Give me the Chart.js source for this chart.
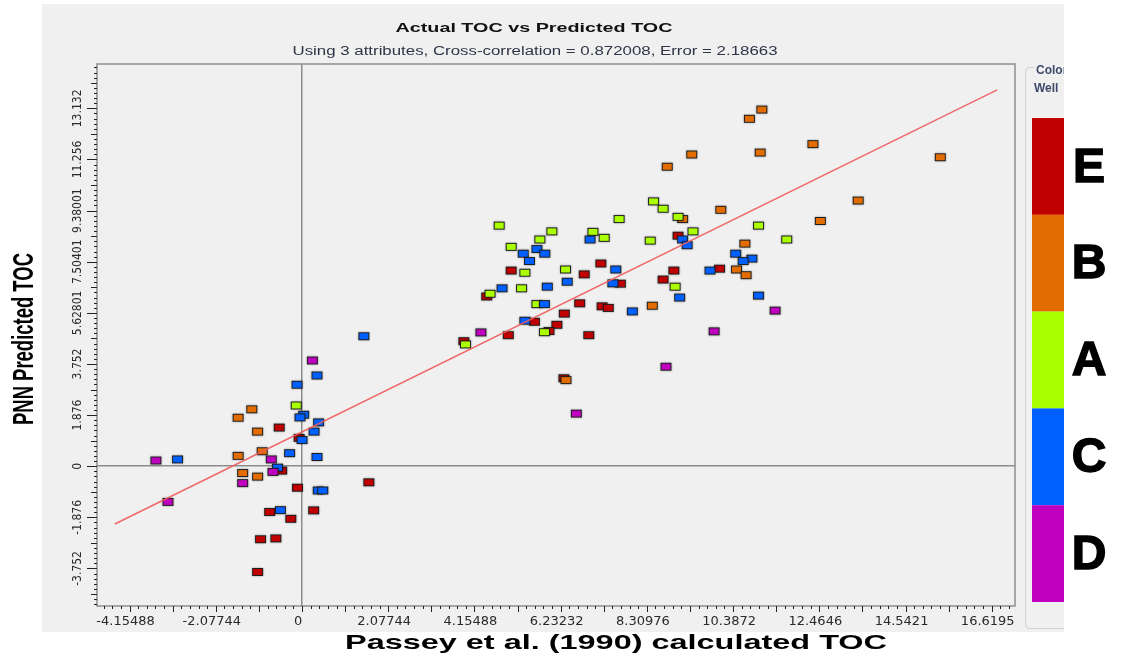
<!DOCTYPE html>
<html>
<head>
<meta charset="utf-8">
<title>Actual TOC vs Predicted TOC</title>
<script src="https://cdn.jsdelivr.net/npm/chart.js@4.4.1/dist/chart.umd.min.js"></script>
<style>
  html, body { margin: 0; padding: 0; background: #ffffff; }
  #wrap { width: 1121px; height: 657px; }
</style>
</head>
<body>
<div id="wrap"><canvas id="toc" width="1121" height="657"></canvas></div>
<script>
// ---- axis ticks ----
const xTickLabels = ["-4.15488", "-2.07744", "0", "2.07744", "4.15488", "6.23232",
  "8.30976", "10.3872", "12.4646", "14.5421", "16.6195"];
const yTickLabels = ["-3.752", "-1.876", "0", "1.876", "3.752", "5.62801",
  "7.50401", "9.38001", "11.256", "13.132"];

// ---- wells (legend order) ----
const wellNames = ["E", "B", "A", "C", "D"];
const wellColors = ["#c00000", "#e36c00", "#aaff00", "#0060ff", "#bf00bf"];

// Passey et al. (1990) calculated TOC (x) / PNN predicted TOC (y), per well
const wellE_x = [-0.55, -0.07, -0.49, -0.11, 1.61, -0.78, 0.28, -0.27, -1.00, -0.63, -1.07,
  9.06, 5.04, 6.80, 7.20, 8.96, 10.06, 7.67, 8.70, 4.45, 6.69, 7.23, 7.38, 6.32, 5.60,
  6.14, 5.95, 4.97, 6.91, 3.90, 6.31];
const wellE_y = [1.42, 1.04, -0.16, -0.79, -0.59, -1.68, -1.62, -1.93, -2.68, -2.65, -3.88,
  8.46, 7.18, 7.04, 7.44, 7.18, 7.25, 6.70, 6.85, 6.23, 5.98, 5.87, 5.81, 5.60, 5.30,
  5.19, 4.96, 4.81, 4.81, 4.59, 3.23];

const wellB_x = [-1.21, -1.54, -1.07, -0.96, -1.54, -1.43, -1.07, 10.09, 9.17, 10.67, 10.47,
  10.70, 8.44, 6.36, 11.08, 10.78, 12.31, 9.39, 11.04, 15.38, 8.80, 13.40, 12.49];
const wellB_y = [2.09, 1.78, 1.27, 0.55, 0.38, -0.25, -0.38, 9.41, 9.07, 8.17, 7.22,
  7.01, 5.89, 3.16, 13.09, 12.75, 11.82, 11.44, 11.51, 11.34, 10.99, 9.75, 9.00];

const wellA_x = [-0.14, 8.47, 8.70, 9.06, 7.64, 4.75, 11.00, 6.02, 7.01, 9.42, 5.73, 7.28,
  8.39, 11.68, 5.04, 5.37, 6.35, 8.99, 5.29, 4.53, 5.66, 5.84, 3.94];
const wellA_y = [2.23, 9.72, 9.45, 9.15, 9.07, 8.83, 8.83, 8.62, 8.60, 8.62, 8.32, 8.38,
  8.28, 8.32, 8.05, 7.10, 7.22, 6.59, 6.53, 6.33, 5.95, 4.92, 4.47];

const wellC_x = [1.49, 0.36, -0.12, 0.04, -0.05, 0.40, 0.29, 0.00, -0.30, 0.36, -3.00, -0.59,
  0.39, 0.50, -0.52, 6.94, 9.17, 9.28, 5.33, 5.66, 5.85, 5.48, 10.45, 10.84, 10.63, 7.56,
  9.83, 6.39, 7.49, 4.82, 5.91, 9.10, 11.00, 5.84, 7.96, 5.37];
const wellC_y = [4.77, 3.33, 2.99, 1.89, 1.79, 1.61, 1.27, 0.96, 0.48, 0.34, 0.25, -0.05,
  -0.89, -0.89, -1.61, 8.32, 8.32, 8.11, 7.80, 7.97, 7.80, 7.53, 7.80, 7.62, 7.53, 7.22,
  7.18, 6.77, 6.71, 6.53, 6.59, 6.19, 6.26, 5.95, 5.68, 5.34];

const wellD_x = [0.25, -0.74, -3.52, -0.70, -1.43, -3.23, 11.40, 4.31, 9.93, 8.77, 6.61];
const wellD_y = [3.88, 0.25, 0.21, -0.21, -0.62, -1.31, 5.71, 4.91, 4.95, 3.65, 1.93];

// fitted trend line end points
const fitX = [-4.51, 16.75];
const fitY = [-2.12, 13.81];

const wellX = { E: wellE_x, B: wellB_x, A: wellA_x, C: wellC_x, D: wellD_x };
const wellY = { E: wellE_y, B: wellB_y, A: wellA_y, C: wellC_y, D: wellD_y };

// small framed rectangle used as marker
function marker(color) {
  const c = document.createElement("canvas");
  c.width = 15; c.height = 12;
  const g = c.getContext("2d");
  g.shadowColor = "rgba(0,0,0,0.45)";
  g.shadowBlur = 2;
  g.fillStyle = "#1c1c1c";
  g.fillRect(2, 2, 11, 8);
  g.shadowBlur = 0;
  g.shadowColor = "transparent";
  g.fillStyle = color;
  g.fillRect(3, 3, 9, 6);
  return c;
}

function pairs(xs, ys) {
  return xs.map((x, i) => ({ x: x, y: ys[i] }));
}

// D drawn on top, E at the bottom
const drawOrder = ["D", "C", "A", "B", "E"];
const wellSets = drawOrder.map((w) => {
  const col = wellColors[wellNames.indexOf(w)];
  return {
    type: "scatter",
    label: w,
    data: pairs(wellX[w], wellY[w]),
    pointStyle: marker(col),
    pointRadius: 5,
    backgroundColor: col,
  };
});

const fitSet = {
  type: "line",
  label: "fit",
  data: pairs(fitX, fitY),
  borderColor: "rgba(240,90,90,0.9)",
  borderWidth: 1.5,
  pointRadius: 0,
  fill: false,
};

function stretchedText(ctx, text, cx, cy, font, width, color, angle) {
  ctx.save();
  ctx.font = font;
  const w = ctx.measureText(text).width;
  ctx.translate(cx, cy);
  if (angle) ctx.rotate(angle);
  ctx.scale(width / w, 1);
  ctx.textAlign = "center";
  ctx.textBaseline = "middle";
  ctx.fillStyle = color;
  ctx.fillText(text, 0, 0);
  ctx.restore();
}

// panel background, frame, tick marks, titles and well colour bar
const decor = {
  id: "decor",
  beforeDraw(chart) {
    const ctx = chart.ctx;
    ctx.save();
    ctx.fillStyle = "#ffffff";
    ctx.fillRect(0, 0, chart.width, chart.height);
    ctx.fillStyle = "#f0f0f0";
    ctx.fillRect(42, 4, 1022, 628);
    ctx.restore();
  },
  afterDraw(chart) {
    const ctx = chart.ctx;
    const a = chart.chartArea;
    const xs = chart.scales.x;
    const ys = chart.scales.y;
    ctx.save();

    // frame
    ctx.strokeStyle = "#8f8f8f";
    ctx.lineWidth = 1.5;
    ctx.strokeRect(a.left, a.top, a.right - a.left, a.bottom - a.top);

    // x tick marks: every half label step, minors in fifths
    ctx.strokeStyle = "#222";
    ctx.lineWidth = 1;
    const xStep = (Number(xTickLabels[1]) - Number(xTickLabels[0])) / 10;
    for (let k = Math.ceil(xs.min / xStep); k * xStep <= xs.max; k++) {
      const px = Math.round(xs.getPixelForValue(k * xStep)) + 0.5;
      const len = k % 5 === 0 ? 6 : 3;
      ctx.beginPath();
      ctx.moveTo(px, a.bottom);
      ctx.lineTo(px, a.bottom + len);
      ctx.stroke();
    }
    const yStep = (Number(yTickLabels[1]) - Number(yTickLabels[0])) / 10;
    for (let k = Math.ceil(ys.min / yStep); k * yStep <= ys.max; k++) {
      const py = Math.round(ys.getPixelForValue(k * yStep)) + 0.5;
      const len = k % 10 === 0 ? 10 : (k % 5 === 0 ? 6 : 3);
      ctx.beginPath();
      ctx.moveTo(a.left, py);
      ctx.lineTo(a.left - len, py);
      ctx.stroke();
    }

    // titles
    stretchedText(ctx, "Actual TOC vs Predicted TOC", 534, 28,
      "bold 13px 'Liberation Sans', Arial, sans-serif", 277, "#111");
    stretchedText(ctx, "Using 3 attributes, Cross-correlation = 0.872008, Error = 2.18663", 535, 52,
      "12px 'Liberation Sans', Arial, sans-serif", 485, "#2f3446");
    stretchedText(ctx, "Passey et al. (1990) calculated TOC", 616, 643,
      "bold 21px 'Liberation Sans', Arial, sans-serif", 542, "#000");
    stretchedText(ctx, "PNN Predicted TOC", 25, 339,
      "bold 30px 'Liberation Sans', Arial, sans-serif", 172, "#000", -Math.PI / 2);

    // legend box
    ctx.strokeStyle = "#d2d2d2";
    ctx.lineWidth = 1;
    ctx.beginPath();
    ctx.roundRect(1025.5, 67.5, 60, 561, 4);
    ctx.stroke();
    ctx.fillStyle = "#f0f0f0";
    ctx.fillRect(1034, 62, 40, 14);
    ctx.font = "bold 12px 'Liberation Sans', Arial, sans-serif";
    ctx.textBaseline = "middle";
    ctx.textAlign = "left";
    ctx.fillStyle = "#3d4a6a";
    ctx.fillText("Color", 1036, 71);
    ctx.fillText("Well", 1034, 89);

    const barTop = 118, segH = 96.8;
    wellColors.forEach((c, i) => {
      ctx.fillStyle = c;
      ctx.fillRect(1032, barTop + i * segH, 40, segH);
    });

    // white strip on the right with big well letters
    ctx.fillStyle = "#ffffff";
    ctx.fillRect(1064, 0, chart.width - 1064, chart.height);
    ctx.font = "bold 48px 'Liberation Sans', Arial, sans-serif";
    ctx.textAlign = "center";
    ctx.textBaseline = "middle";
    ctx.fillStyle = "#000";
    ctx.strokeStyle = "#000";
    ctx.lineWidth = 1.5;
    wellNames.forEach((w, i) => {
      const cy = barTop + i * segH + segH / 2 + 2;
      ctx.fillText(w, 1089, cy);
      ctx.strokeText(w, 1089, cy);
    });
    ctx.restore();
  },
};

const zeroLine = (c) => (c.tick && c.tick.value === 0 ? "#8c8c8c" : "rgba(0,0,0,0)");

new Chart(document.getElementById("toc"), {
  data: { datasets: [fitSet].concat(wellSets) },
  options: {
    responsive: false,
    animation: false,
    events: [],
    layout: { padding: { left: 0, top: 64, right: 106, bottom: 0 } },
    plugins: { legend: { display: false }, tooltip: { enabled: false } },
    scales: {
      x: {
        type: "linear",
        min: -4.94,
        max: 17.18,
        afterBuildTicks: (s) => { s.ticks = xTickLabels.map((t) => ({ value: Number(t) })); },
        afterFit: (s) => { s.height = 51; },
        ticks: {
          autoSkip: false,
          maxRotation: 0,
          padding: 8,
          labelOffset: -4,
          color: "#2a2a2a",
          font: { family: "'DejaVu Sans', sans-serif", size: 13 },
          callback: (v, i) => xTickLabels[i],
        },
        grid: { drawTicks: false, color: zeroLine, lineWidth: 1.5 },
        border: { display: false },
      },
      y: {
        type: "linear",
        min: -5.13,
        max: 14.76,
        afterBuildTicks: (s) => { s.ticks = yTickLabels.map((t) => ({ value: Number(t) })); },
        afterFit: (s) => { s.width = 97; },
        ticks: {
          autoSkip: false,
          minRotation: 90,
          maxRotation: 90,
          crossAlign: "center",
          padding: -3,
          color: "#2a2a2a",
          font: { family: "'Liberation Sans Narrow', 'DejaVu Sans Condensed', sans-serif", size: 12 },
          callback: (v, i) => yTickLabels[i],
        },
        grid: { drawTicks: false, color: zeroLine, lineWidth: 1.5 },
        border: { display: false },
      },
    },
  },
  plugins: [decor],
});
</script>
</body>
</html>
